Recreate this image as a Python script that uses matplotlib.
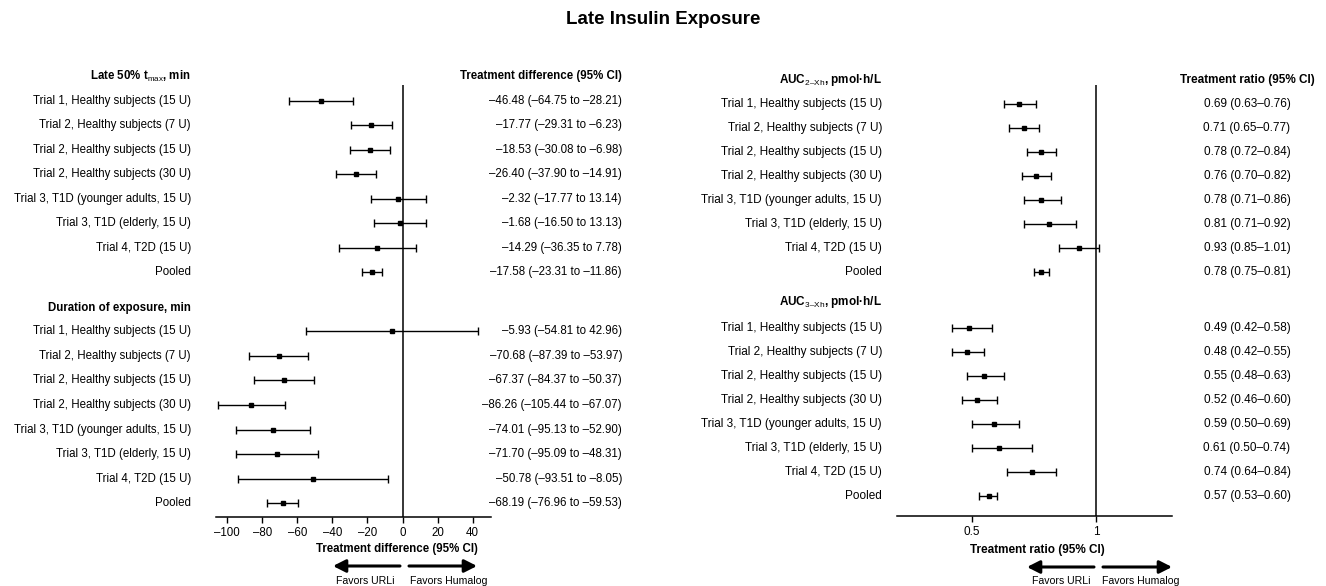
import matplotlib
matplotlib.use('Agg')
import matplotlib.pyplot as plt
import matplotlib.transforms as mtransforms
from matplotlib.patches import FancyArrowPatch

plt.rcParams['font.family'] = ['Liberation Sans', 'DejaVu Sans']
plt.rcParams['mathtext.fontset'] = 'custom'
plt.rcParams['mathtext.rm'] = 'Liberation Sans'

W, H = 1326, 586

# row labels shared by every block
groups = ['Trial 1, Healthy subjects (15 U)', 'Trial 2, Healthy subjects (7 U)',
          'Trial 2, Healthy subjects (15 U)', 'Trial 2, Healthy subjects (30 U)',
          'Trial 3, T1D (younger adults, 15 U)', 'Trial 3, T1D (elderly, 15 U)',
          'Trial 4, T2D (15 U)', 'Pooled']

# late 50% tmax, treatment difference (min)
tmax_est = [-46.48, -17.77, -18.53, -26.40, -2.32, -1.68, -14.29, -17.58]
tmax_lo = [-64.75, -29.31, -30.08, -37.90, -17.77, -16.50, -36.35, -23.31]
tmax_hi = [-28.21, -6.23, -6.98, -14.91, 13.14, 13.13, 7.78, -11.86]

# duration of exposure, treatment difference (min)
dur_est = [-5.93, -70.68, -67.37, -86.26, -74.01, -71.70, -50.78, -68.19]
dur_lo = [-54.81, -87.39, -84.37, -105.44, -95.13, -95.09, -93.51, -76.96]
dur_hi = [42.96, -53.97, -50.37, -67.07, -52.90, -48.31, -8.05, -59.53]

# AUC 2-Xh, treatment ratio
auc2_est = [0.69, 0.71, 0.78, 0.76, 0.78, 0.81, 0.93, 0.78]
auc2_lo = [0.63, 0.65, 0.72, 0.70, 0.71, 0.71, 0.85, 0.75]
auc2_hi = [0.76, 0.77, 0.84, 0.82, 0.86, 0.92, 1.01, 0.81]

# AUC 3-Xh, treatment ratio
auc3_est = [0.49, 0.48, 0.55, 0.52, 0.59, 0.61, 0.74, 0.57]
auc3_lo = [0.42, 0.42, 0.48, 0.46, 0.50, 0.50, 0.64, 0.53]
auc3_hi = [0.58, 0.55, 0.63, 0.60, 0.69, 0.74, 0.84, 0.60]

diff_ticks = [-100, -80, -60, -40, -20, 0, 20, 40]
ratio_ticks = [0.5, 1]
ratio_ticklabels = ['0.5', '1']


def fx(px):
    return px / W


def fy(py):
    return 1 - py / H


def dash(s):
    return s.replace('-', '\u2013')


def fmt_diff(e, lo, hi):
    return dash(f'{e:.2f} ({lo:.2f} to {hi:.2f})')


def fmt_ratio(e, lo, hi):
    return f'{e:.2f} ({lo:.2f}\u2013{hi:.2f})'


fig = plt.figure(figsize=(W / 100, H / 100), dpi=100)
fig.text(fx(663), fy(20), 'Late Insulin Exposure', ha='center', va='center',
         fontsize=13.5, fontweight='bold')


def forest(ax_px, y0, dy, head2, row2, blocks, xlim, ref, label_x, val_x, val_ha,
           col_head, head_ha, fmt, fs):
    left, right, top, bottom = ax_px
    ax = fig.add_axes([fx(left), fy(bottom), fx(right - left), (bottom - top) / H])
    ax.set_xlim(*xlim)
    ax.set_ylim((bottom - y0) / dy, (top - y0) / dy)
    for s in ['top', 'right', 'left']:
        ax.spines[s].set_visible(False)
    ax.spines['bottom'].set_linewidth(1.1)
    ax.set_yticks([])
    ax.tick_params(axis='x', direction='out', length=4, width=1, labelsize=fs, pad=3)
    ax.axvline(ref, color='black', lw=1.1, zorder=1)

    tr_lab = mtransforms.blended_transform_factory(fig.transFigure, ax.transData)
    for (title, est, lo, hi), hy, r0 in zip(blocks, [0, head2], [1, row2]):
        ys = [r0 + i for i in range(len(est))]
        xerr = [[e - l for e, l in zip(est, lo)], [h - e for e, h in zip(est, hi)]]
        ax.errorbar(est, ys, xerr=xerr, fmt='s', color='black', ms=3.0,
                    elinewidth=1.0, capsize=3.0, capthick=1.0, zorder=3)
        ax.text(fx(label_x), hy, title, transform=tr_lab, ha='right', va='center',
                fontsize=fs, fontweight='bold', clip_on=False)
        for y, g, e, l, h in zip(ys, groups, est, lo, hi):
            ax.text(fx(label_x), y, g, transform=tr_lab, ha='right', va='center',
                    fontsize=fs, clip_on=False)
            ax.text(fx(val_x), y, fmt(e, l, h), transform=tr_lab, ha=val_ha,
                    va='center', fontsize=fs, clip_on=False)
    ax.text(fx(col_head[0]), 0, col_head[1], transform=tr_lab, ha=head_ha,
            va='center', fontsize=fs, fontweight='bold', clip_on=False)
    return ax


# left panel: treatment differences
ax1 = forest((216, 491, 85, 517), 76, 24.55, 9.45, 10.4,
             [(r'Late 50% t$_{\mathrm{max}}$, min', tmax_est, tmax_lo, tmax_hi),
              ('Duration of exposure, min', dur_est, dur_lo, dur_hi)],
             (-106.3, 50.4), 0, 191, 622, 'right',
             (622, 'Treatment difference (95% CI)'), 'right', fmt_diff, 8.3)
ax1.set_xticks(diff_ticks)
ax1.set_xticklabels([dash(str(t)) for t in diff_ticks])

# right panel: treatment ratios
auc2_title = 'AUC$_{\\mathrm{2\u2013Xh}}$, pmol\u00b7h/L'
auc3_title = 'AUC$_{\\mathrm{3\u2013Xh}}$, pmol\u00b7h/L'
ax2 = forest((897, 1172, 85, 516), 80, 24.0, 9.25, 10.35,
             [(auc2_title, auc2_est, auc2_lo, auc2_hi),
              (auc3_title, auc3_est, auc3_lo, auc3_hi)],
             (0.198, 1.306), 1, 882, 1247, 'center',
             (1247, 'Treatment ratio (95% CI)'), 'center', fmt_ratio, 8.5)
ax2.set_xticks(ratio_ticks)
ax2.set_xticklabels(ratio_ticklabels)

# axis titles and direction arrows
fig.text(fx(397), fy(549), 'Treatment difference (95% CI)', ha='center', va='center',
         fontsize=8.3, fontweight='bold')
fig.text(fx(1037), fy(550), 'Treatment ratio (95% CI)', ha='center', va='center',
         fontsize=8.5, fontweight='bold')

arrow_kw = dict(arrowstyle='-|>,head_length=0.75,head_width=0.38', lw=2.2,
                color='black', shrinkA=0, shrinkB=0, mutation_scale=10)
for tail_l, tip_l, tail_r, tip_r, ay, tx_l, tx_r in [
        (400, 333, 409, 477, 566, 365, 449),
        (1094, 1027, 1103, 1172, 567, 1061, 1141)]:
    fig.add_artist(FancyArrowPatch((fx(tail_l), fy(ay)), (fx(tip_l), fy(ay)),
                                   transform=fig.transFigure, **arrow_kw))
    fig.add_artist(FancyArrowPatch((fx(tail_r), fy(ay)), (fx(tip_r), fy(ay)),
                                   transform=fig.transFigure, **arrow_kw))
    fig.text(fx(tx_l), fy(581), 'Favors URLi', ha='center', va='center', fontsize=7.6)
    fig.text(fx(tx_r), fy(581), 'Favors Humalog', ha='center', va='center', fontsize=7.6)

fig.savefig('out.png', dpi=100)
